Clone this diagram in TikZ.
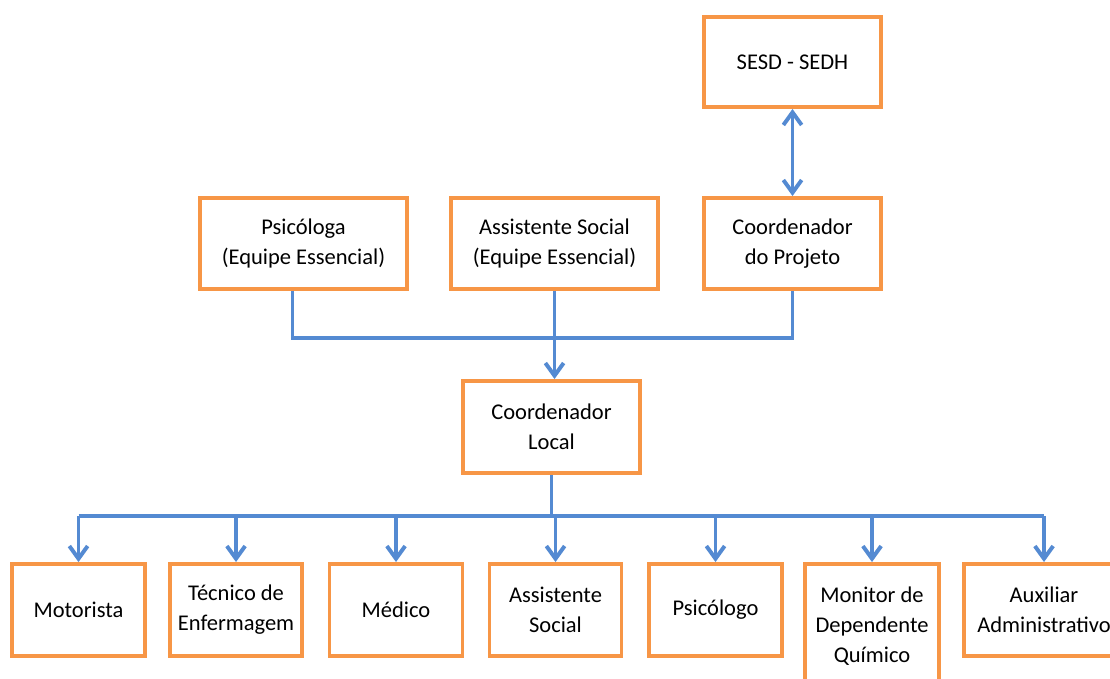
\documentclass[tikz,border=0pt]{standalone}
\usepackage{fontspec}
\setmainfont{Carlito}
\usepackage{tikz}
\usetikzlibrary{arrows.meta}
\definecolor{laranja}{RGB}{247,150,70}
\definecolor{azul}{RGB}{84,138,210}
\tikzset{
  caixa/.style={draw=laranja, line width=2.8pt, fill=white, align=center, inner sep=0pt,
    font=\fontsize{16}{21.3}\selectfont},
  ligacao/.style={draw=azul, line width=2.8pt},
  seta/.style={ligacao, -{Straight Barb[length=9pt,width=13pt]}},
  setadupla/.style={ligacao, {Straight Barb[length=9pt,width=13pt]}-{Straight Barb[length=9pt,width=13pt]}}
}
\newcommand{\caixa}[6]{\node[caixa, minimum width=#4*0.025cm, minimum height=#5*0.025cm] (#1) at ( #2 , #3 ) {#6};}

\begin{document}
\begin{tikzpicture}[x=0.025cm, y=-0.025cm]
    \useasboundingbox (0,0) rectangle (1110,678);
    \clip (0,0) rectangle (1110,678);
    \fill[white] (0,0) rectangle (1110,678);

    % topo
    \caixa{sesd}{792.5}{62}{177}{90}{SESD - SEDH}
    \caixa{psi}{303.5}{243.5}{207}{91}{Psicóloga\\(Equipe Essencial)}
    \caixa{ast}{554.5}{243.5}{207}{91}{Assistente Social\\(Equipe Essencial)}
    \caixa{cpj}{792.5}{243.5}{177}{91}{Coordenador\\do Projeto}
    \caixa{loc}{551.5}{427}{177}{92}{Coordenador\\Local}

    % equipe
    \caixa{mot}{78.5}{610}{133}{92}{Motorista}
    \caixa{tec}{236}{610}{132}{92}{Técnico de\\Enfermagem}
    \caixa{med}{396}{610}{133}{92}{Médico}
    \caixa{asb}{555.5}{610}{132}{92}{Assistente\\Social}
    \caixa{psb}{715.5}{610}{133}{92}{Psicólogo}
    \caixa{mon}{872}{626}{134}{124}{Monitor de\\Dependente\\Químico}
    \caixa{aux}{1044}{610}{160}{92}{Auxiliar\\Administrativo}

    \coordinate (eixo) at (0,338);
    \coordinate (barra) at (0,516);

    \draw[setadupla] (sesd.south) -- (cpj.north);
    \draw[ligacao] ([xshift=-0.275cm]psi.south) |- (cpj.south |- eixo) -- (cpj.south);
    \draw[seta] (ast.south) -- (ast.south |- loc.north);

    \draw[ligacao] (loc.south) -- (loc.south |- barra);
    \draw[ligacao] (mot.north |- barra) -- (aux.north |- barra);
    \foreach \cargo in {mot,tec,med,asb,psb,mon,aux}
        \draw[seta] (\cargo.north |- barra) -- (\cargo.north);
\end{tikzpicture}
\end{document}
